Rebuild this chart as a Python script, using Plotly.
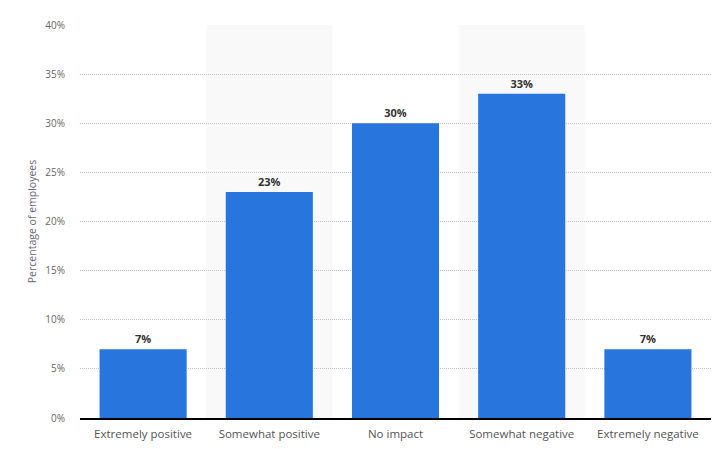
import plotly.graph_objects as go

categories = ["Extremely positive", "Somewhat positive", "No impact", "Somewhat negative", "Extremely negative"]
values = [7, 23, 30, 33, 7]
labels = [f"{v}%" for v in values]
tick_vals = [0, 5, 10, 15, 20, 25, 30, 35, 40]
tick_text = [f"{v}%" for v in tick_vals]

BAR = "#2876dd"
FONT = "Open Sans"

fig = go.Figure()
fig.add_trace(go.Bar(
    x=categories, y=values, text=labels, texttemplate="%{text}",
    marker=dict(color=BAR, line=dict(width=0)),
    textposition="outside",
    textfont=dict(family=FONT, size=11, color="#333333", weight=700),
    cliponaxis=False, hoverinfo="skip",
))

shapes = []
for i in (1, 3):
    shapes.append(dict(type="rect", xref="x", yref="paper", x0=i - 0.5, x1=i + 0.5, y0=0, y1=1,
                       fillcolor="#f9f9f9", line=dict(width=0), layer="below"))

fig.update_layout(
    width=724, height=449,
    margin=dict(l=80, r=13, t=25, b=31, autoexpand=False),
    paper_bgcolor="white", plot_bgcolor="white",
    bargap=0.31, showlegend=False, shapes=shapes,
    font=dict(family=FONT, color="#666666"),
)
fig.update_xaxes(
    type="category", showgrid=False, showline=True, linecolor="#000000", linewidth=1.5,
    tickfont=dict(family=FONT, size=11.5, color="#555555"), ticks="", ticklabelstandoff=4,
    automargin=False,
)
fig.update_yaxes(
    range=[0, 40], tickvals=tick_vals, ticktext=tick_text,
    showgrid=True, gridcolor="#c4c4c4", griddash="1px,1px", gridwidth=1,
    zeroline=False, showline=False, ticks="", ticklabelstandoff=14,
    tickfont=dict(family=FONT, size=10, color="#666666"),
    title=dict(text="Percentage of employees", font=dict(family=FONT, size=10.5, color="#6b6677"), standoff=6),
    automargin=False,
)

fig.write_html("out.html")
